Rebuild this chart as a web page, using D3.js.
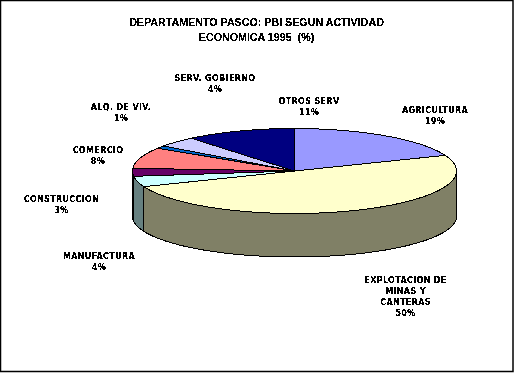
<!DOCTYPE html>
<html><head><meta charset="utf-8">
<script src="https://cdnjs.cloudflare.com/ajax/libs/d3/7.8.5/d3.min.js"></script>
<style>html,body{margin:0;padding:0;background:#fff;overflow:hidden}svg{display:block}</style>
</head><body><svg id="c" width="514" height="373"></svg>
<script>
const categories=["AGRICULTURA","EXPLOTACION DE MINAS Y CANTERAS","MANUFACTURA","CONSTRUCCION","COMERCIO","ALQ. DE VIV.","SERV. GOBIERNO","OTROS SERV"];
const values=[19,50,4,3,8,1,4,11];
const topColors=["#9999FF","#FFFFCC","#CCFFFF","#660066","#FF8080","#0066CC","#CCCCFF","#000080"];
const sideColors=["#4C4C80","#808066","#668080","#330033","#804040","#003366","#666680","#000040"];
const labelLines=[["AGRICULTURA"],["EXPLOTACION DE","MINAS Y","CANTERAS"],["MANUFACTURA"],["CONSTRUCCION"],["COMERCIO"],["ALQ. DE VIV."],["SERV. GOBIERNO"],["OTROS SERV"]];
const labelX=[435,405.5,99,61.5,98,121,215,309];
const labelY=[113,283,259,202,153,110,81,104];
const titleLines=["DEPARTAMENTO PASCO: PBI SEGUN ACTIVIDAD","ECONOMICA 1995  (%)"];

const svg=d3.select("#c");
const defs=svg.append("defs");
const f=defs.append("filter").attr("id","alias").attr("x","-5%").attr("y","-20%").attr("width","110%").attr("height","140%");
f.append("feComponentTransfer").append("feFuncA").attr("type","discrete").attr("tableValues","0 0 1 1");

svg.append("rect").attr("x",0.5).attr("y",0.5).attr("width",512.5).attr("height",371).attr("fill","#fff").attr("stroke","#000").attr("stroke-width",1.5);

const cx=294.5,cy=171,rx=162,ry=42.5,cyBottom=216.5,ryBottom=40.5;
const px=d3.scaleLinear().domain([-1,1]).range([cx-rx,cx+rx]);
const py=d3.scaleLinear().domain([-1,1]).range([cy-ry,cy+ry]);
const pyBottom=d3.scaleLinear().domain([-1,1]).range([cyBottom-ryBottom,cyBottom+ryBottom]);
const slices=d3.pie().sort(null).value(d=>d)(values);
const pt=a=>[px(Math.sin(a)),py(-Math.cos(a))];
const ptBottom=a=>[px(Math.sin(a)),pyBottom(-Math.cos(a))];
const angles=(a0,a1)=>{const n=Math.max(2,Math.ceil((a1-a0)/0.02));return d3.range(n+1).map(i=>a0+(a1-a0)*i/n);};
const line=d3.line();

const g=svg.append("g").attr("shape-rendering","crispEdges");
slices.forEach((s,i)=>{
  const a0=Math.max(s.startAngle,Math.PI/2),a1=Math.min(s.endAngle,3*Math.PI/2);
  if(a1<=a0)return;
  const as=angles(a0,a1);
  g.append("path").attr("d",line(as.map(pt).concat(as.slice().reverse().map(ptBottom)))+"Z").attr("fill",sideColors[i]).attr("stroke","#000").attr("stroke-width",1);
});
slices.forEach((s,i)=>{
  g.append("path").attr("d",line([[cx,cy]].concat(angles(s.startAngle,s.endAngle).map(pt)))+"Z").attr("fill",topColors[i]).attr("stroke","#000").attr("stroke-width",1);
});

const tg=svg.append("g").attr("filter","url(#alias)").attr("text-anchor","middle").attr("fill","#000").attr("stroke","#000").attr("stroke-width",0.2);
titleLines.forEach((t,i)=>tg.append("text").attr("x",256.5).attr("y",26+i*15).style("white-space","pre")
  .attr("font-family","Liberation Sans").attr("font-weight","bold").attr("font-size",10.7).text(t));
categories.forEach((c,i)=>{
  const ls=labelLines[i].concat([values[i]+"%"]);
  ls.forEach((t,j)=>tg.append("text").attr("x",labelX[i]).attr("y",labelY[i]+j*11)
    .attr("font-family","DejaVu Sans").attr("font-weight","bold").attr("font-size",8).attr("letter-spacing",0.35).text(t));
});
</script></body></html>
